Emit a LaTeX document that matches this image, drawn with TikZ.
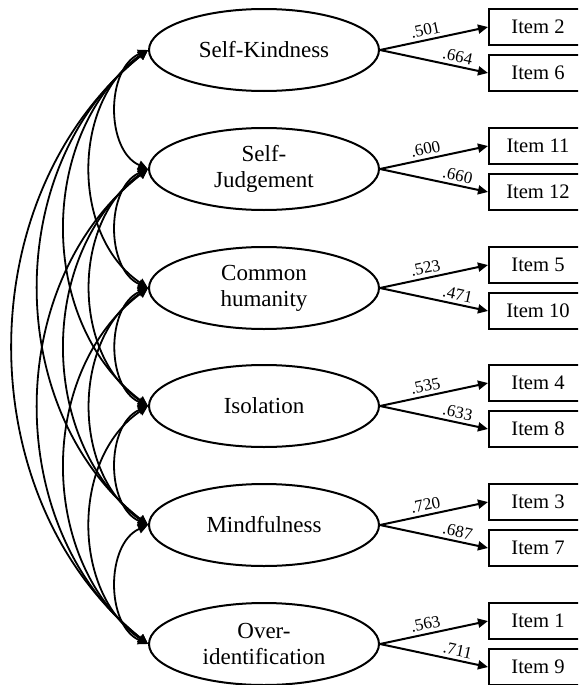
\documentclass[tikz,border=0pt]{standalone}
\usepackage{fontspec}
\setmainfont{Liberation Serif}
\usetikzlibrary{shapes.geometric,arrows.meta}

\begin{document}
\begin{tikzpicture}[x=0.5pt,y=-0.5pt,
    factor/.style={ellipse, draw, line width=1pt, minimum width=115pt,
      minimum height=41pt, inner sep=0pt, align=center,
      font=\fontsize{11.5}{13}\selectfont},
    itembox/.style={rectangle, draw, line width=1pt, minimum width=49pt,
      minimum height=18pt, inner sep=0pt, font=\fontsize{10.3}{12}\selectfont},
    load/.style={line width=1pt, -{Triangle[length=5pt,width=4.5pt]}},
    cov/.style={line width=0.9pt,
      {Triangle[length=5pt,width=4.5pt]}-{Triangle[length=5pt,width=4.5pt]}},
    coef/.style={sloped, above, inner sep=1.6pt, font=\fontsize{8.5}{9}\selectfont}
  ]
  \useasboundingbox (0,0) rectangle (578,685);
  \clip (0,0) rectangle (578,685);

  % latent factors
  \foreach \n/\y/\txt in {1/50/{Self-Kindness}, 2/169/{Self-\\Judgement},
      3/288/{Common\\humanity}, 4/406/{Isolation}, 5/525/{Mindfulness},
      6/644/{Over-\\identification}}
    \node[factor] (f\n) at (264,\y) {\txt};

  % observed items and loadings
  \foreach \n/\y/\a/\b/\la/\lb in {1/50/2/6/.501/.664, 2/169/11/12/.600/.660,
      3/288/5/10/.523/.471, 4/406/4/8/.535/.633, 5/525/3/7/.720/.687,
      6/644/1/9/.563/.711}{
    \node[itembox] (i\a) at (538,\y-23) {Item \a};
    \node[itembox] (i\b) at (538,\y+23) {Item \b};
    \draw[load] (f\n.east) -- node[coef, pos=0.44] {\la} (i\a.west);
    \draw[load] (f\n.east) -- node[coef, pos=0.7] {\lb} (i\b.west);
  }

  % covariances between factors
  \foreach \i in {1,...,5}{
    \pgfmathtruncatemacro\s{\i+1}
    \foreach \j in {\s,...,6}{
      \pgfmathsetmacro\ang{{66,56,53,52,51}[\j-\i-1]}
      \draw[cov] (f\i.west) to[bend right=\ang] (f\j.west);
    }
  }
\end{tikzpicture}
\end{document}
